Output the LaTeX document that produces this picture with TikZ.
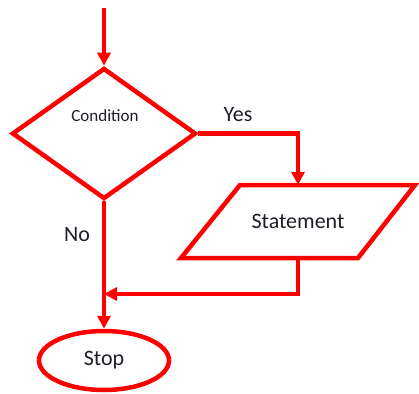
\documentclass[tikz,border=0pt]{standalone}
\usepackage{fontspec}
\setmainfont{Carlito}
\usetikzlibrary{shapes.geometric,arrows.meta}
\definecolor{flowred}{RGB}{255,0,0}
\definecolor{flowtext}{RGB}{30,30,40}
\tikzset{
  flowline/.style={draw=flowred,line width=4.5pt},
  flowarrow/.style={flowline,-{Triangle[length=13pt,width=13pt]}},
  lbl/.style={text=flowtext,font=\fontsize{22}{24}\selectfont,inner sep=0pt},
}
\begin{document}
\begin{tikzpicture}[x=1pt,y=-1pt]
\useasboundingbox (0,0) rectangle (419,393);

% decision
\node[diamond,flowline,minimum width=184pt,minimum height=131pt,inner sep=0pt]
  (cond) at (104,133.5) {};
\node[lbl,font=\fontsize{17}{19}\selectfont] (condtext) at (105,116) {Condition};

% statement (parallelogram)
\draw[flowline] (240,185) -- (415,185) -- (358,258) -- (181,258) -- cycle;
\node[lbl,minimum height=73pt,minimum width=10pt] (stmt) at (298,221.5) {Statement};

% terminal
\node[ellipse,flowline,minimum width=130pt,minimum height=59pt,lbl] (stop) at (104,360.5) {Stop};

% entry and merge points
\coordinate (entry) at (104,8);
\coordinate (merge) at (104,294);

% connectors
\draw[flowarrow] (entry) -- (cond.north);
\draw[flowarrow] (cond.east) -| (stmt.north);
\draw[flowarrow] (stmt.south) |- (merge);
\draw[flowarrow] (cond.south) -- (stop.north);

% branch labels
\node[lbl] (yes) at (238,115) {Yes};
\node[lbl] (no) at (77,235) {No};
\end{tikzpicture}
\end{document}
